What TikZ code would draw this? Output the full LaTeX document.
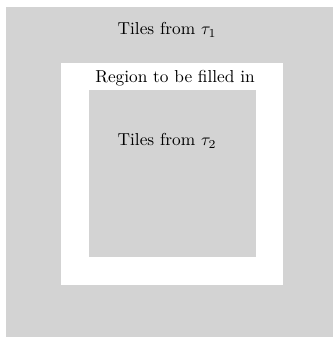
\documentclass[tikz,border=0pt]{standalone}
\usepackage{amsmath}
\usetikzlibrary{positioning}

\begin{document}
\begin{tikzpicture}[
    x=0.0203cm, y=-0.0203cm,
    tile/.style={fill=tilefill,draw=none},
    hole/.style={fill=white,draw=none},
    lbl/.style={inner sep=0pt,anchor=center},
]
\definecolor{tilefill}{RGB}{211,211,211}
\useasboundingbox (0,0) rectangle (333,337);

% ================= outer tiling and the hole cut into it =================
\path[tile] (6,7) rectangle (333,337);
\path[hole] (61,63) rectangle (283,285);
\path[tile] (89,90) rectangle (256,257);

% ================= labels =================
\node[lbl] (outer) at (167,30) {Tiles from $\tau_1$};
\node[lbl] (region) at (175,78) {Region to be filled in};
\node[lbl] (inner) at (167,141) {Tiles from $\tau_2$};

\end{tikzpicture}
\end{document}
